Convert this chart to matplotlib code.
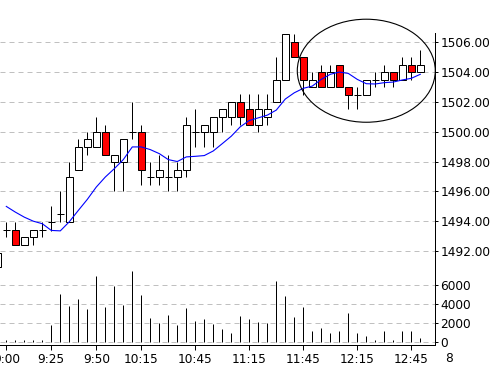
import numpy as np
import matplotlib
matplotlib.use("Agg")
import matplotlib.pyplot as plt
import matplotlib.patches as patches

# 5 minute bars, index -1 is the bar cut off at the left edge
bar_idx = list(range(-1, 47))
opens = [1490.95,
         1493.44, 1493.42, 1492.41, 1492.93, 1493.44, 1493.96, 1494.48, 1493.96, 1497.46, 1499.0,
         1499.0, 1500.0, 1497.97, 1497.97, 1500.0, 1500.0, 1496.99, 1496.99, 1496.99, 1496.99,
         1497.46, 1500.0, 1500.0, 1500.0, 1500.96, 1500.96, 1502.0, 1501.49, 1500.48, 1500.98,
         1502.0, 1503.49, 1506.0, 1504.99, 1503.0, 1504.0, 1503.0, 1504.5, 1503.0, 1502.48,
         1502.48, 1503.49, 1503.49, 1504.0, 1503.49, 1504.5, 1504.0]
closes = [1491.85,
          1493.44, 1492.41, 1492.93, 1493.42, 1493.44, 1493.96, 1494.48, 1496.99, 1499.0, 1499.5,
          1500.0, 1498.47, 1498.47, 1499.5, 1500.0, 1497.46, 1496.99, 1497.46, 1496.99, 1497.46,
          1500.48, 1500.0, 1500.48, 1500.96, 1501.49, 1502.0, 1500.96, 1500.48, 1501.49, 1501.49,
          1503.49, 1506.54, 1504.99, 1503.49, 1503.49, 1503.0, 1504.0, 1503.0, 1502.48, 1502.48,
          1503.49, 1503.49, 1504.0, 1503.49, 1504.5, 1504.0, 1504.5]
highs = [1491.85,
         1493.96, 1493.96, 1492.93, 1493.42, 1493.96, 1494.99, 1496.0, 1498.0, 1499.5, 1500.0,
         1501.0, 1500.48, 1498.47, 1499.5, 1502.0, 1500.48, 1497.97, 1498.47, 1498.47, 1497.97,
         1501.0, 1501.49, 1500.48, 1500.96, 1501.49, 1502.0, 1502.52, 1502.52, 1502.52, 1502.52,
         1504.99, 1506.54, 1506.54, 1504.99, 1504.0, 1504.5, 1504.5, 1504.5, 1503.0, 1503.0,
         1503.49, 1504.0, 1504.5, 1504.0, 1504.99, 1504.99, 1505.51]
lows = [1490.95,
        1492.93, 1492.41, 1492.41, 1492.41, 1492.93, 1493.33, 1493.96, 1493.96, 1497.46, 1498.47,
        1499.0, 1498.47, 1496.0, 1496.0, 1499.5, 1496.45, 1496.45, 1496.45, 1496.0, 1496.0,
        1496.99, 1499.0, 1499.0, 1499.0, 1500.0, 1500.48, 1500.48, 1500.48, 1500.0, 1500.48,
        1502.0, 1503.49, 1504.99, 1502.48, 1503.0, 1503.0, 1503.0, 1503.0, 1501.49, 1501.49,
        1502.48, 1503.0, 1503.0, 1503.0, 1503.49, 1503.49, 1504.0]
# moving average (blue line)
ma = [np.nan,
      1494.99, 1494.61, 1494.27, 1494.0, 1493.83, 1493.38, 1493.35, 1493.96, 1494.72, 1495.46,
      1496.29, 1496.96, 1497.52, 1498.13, 1498.98, 1498.98, 1498.8, 1498.53, 1498.13, 1498.0,
      1498.31, 1498.35, 1498.4, 1498.71, 1499.2, 1499.7, 1500.33, 1500.75, 1500.93, 1501.11,
      1501.45, 1502.19, 1502.61, 1502.91, 1503.06, 1503.51, 1503.85, 1504.0, 1503.91, 1503.51,
      1503.22, 1503.2, 1503.29, 1503.33, 1503.47, 1503.58, 1503.85]
volumes = [0,
           245, 175, 245, 175, 175, 1825, 5088, 3825, 4527, 3509,
           6983, 3720, 5965, 3965, 7509, 4983, 2562, 1965, 2877, 1825,
           3579, 2211, 2421, 1930, 1404, 983, 2772, 2456, 2140, 1965,
           6456, 4877, 2667, 3720, 1123, 1509, 912, 1193, 3088, 983,
           667, 245, 1123, 245, 1123, 1123, 456]

time_ticks = [0, 5, 10, 15, 21, 27, 33, 39, 45]
time_labels = ["9:00", "9:25", "9:50", "10:15", "10:45", "11:15", "11:45", "12:15", "12:45"]
price_ticks = [1492, 1494, 1496, 1498, 1500, 1502, 1504, 1506]
volume_ticks = [0, 2000, 4000, 6000]

W, H = 498, 366
px = 0.72  # one pixel in points
fs = 8.7
grid_kw = dict(color="#c0c0c0", linestyle=(0, (5, 4)), linewidth=px)

fig = plt.figure(figsize=(W / 100, H / 100), dpi=100)
ax_p = fig.add_axes([0, (H - 268) / H, 435.3 / W, (268 - 33) / H])
ax_v = fig.add_axes([0, (H - 345) / H, 435.3 / W, (345 - 268) / H], sharex=ax_p)

x = np.array(bar_idx, dtype=float)
o = np.array(opens)
c = np.array(closes)
body_w = 0.78

# wicks
ax_p.vlines(x, lows, highs, color="black", linewidth=px, zorder=2)
for xi, oi, ci in zip(x, o, c):
    if abs(ci - oi) < 1e-6:
        ax_p.hlines(oi, xi - body_w / 2, xi + body_w / 2, color="black", linewidth=px, zorder=3)
    else:
        face = "#ff0000" if ci < oi else "white"
        rect = patches.Rectangle((xi - body_w / 2, min(oi, ci)), body_w, abs(ci - oi),
                                 facecolor=face, edgecolor="black", linewidth=px, zorder=3)
        ax_p.add_patch(rect)

ax_p.plot(x, ma, color="#0000ff", linewidth=0.8, zorder=4)

# highlight ellipse
ell = patches.Ellipse((40.0, 1504.09), 15.33, 6.91, fill=False, edgecolor="black",
                      linewidth=0.8, clip_on=False, zorder=5)
ax_p.add_patch(ell)

ax_p.set_xlim(-0.7, 47.67)
ax_p.set_ylim(1490.86, 1506.62)
ax_p.set_yticks(price_ticks)
ax_p.set_yticklabels([f"{p:.2f}" for p in price_ticks])
ax_p.yaxis.tick_right()
ax_p.tick_params(axis="y", direction="out", length=3 * px, width=px, pad=1.5, labelsize=fs)
ax_p.tick_params(axis="x", bottom=False, labelbottom=False)
for s in ["top", "left", "bottom"]:
    ax_p.spines[s].set_visible(False)
ax_p.spines["right"].set_linewidth(px)
for p in price_ticks:
    ax_p.axhline(p, zorder=0, **grid_kw)

# volume panel
ax_v.vlines(x, 0, volumes, color="black", linewidth=px, zorder=2)
ax_v.set_ylim(-317, 7831)
ax_v.set_yticks(volume_ticks)
ax_v.set_yticklabels([str(v) for v in volume_ticks])
ax_v.yaxis.tick_right()
ax_v.tick_params(axis="y", direction="out", length=3 * px, width=px, pad=1.5, labelsize=fs)
ax_v.set_xticks(time_ticks)
ax_v.set_xticklabels(time_labels)
ax_v.tick_params(axis="x", direction="out", length=5 * px, width=px, pad=2, labelsize=fs)
for s in ["top", "left"]:
    ax_v.spines[s].set_visible(False)
ax_v.spines["right"].set_linewidth(px)
ax_v.spines["bottom"].set_linewidth(px)
for v in volume_ticks:
    ax_v.axhline(v, zorder=0, **grid_kw)

fig.text(449 / W, (H - 359) / H, "8", ha="center", va="center", fontsize=fs)

fig.savefig("out.png", dpi=100)
